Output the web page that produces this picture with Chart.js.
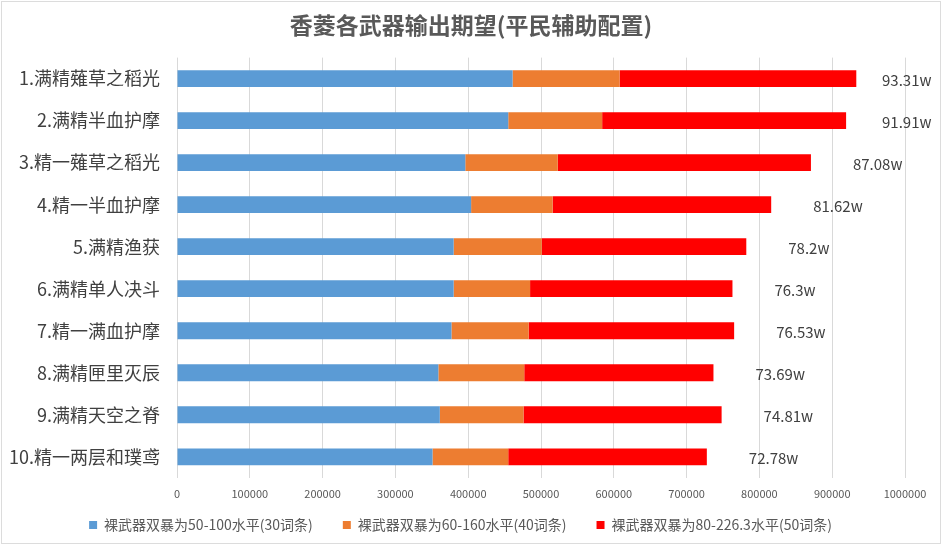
<!DOCTYPE html>
<html>
<head>
<meta charset="utf-8">
<script src="https://cdn.jsdelivr.net/npm/chart.js@4"></script>
<style>
  html, body { margin: 0; padding: 0; background: #fff; }
  #wrap { position: absolute; left: 1px; top: 1px; width: 940px; height: 543px; border: 1px solid #dcdcdc; box-sizing: border-box; }
  #box { position: absolute; left: 0; top: 0; width: 942px; height: 546px; }
</style>
</head>
<body>
<div id="wrap"></div>
<div id="box"><canvas id="miGrafico" width="942" height="546"></canvas></div>
<script>
const categorias = ['1.满精薙草之稻光', '2.满精半血护摩', '3.精一薙草之稻光', '4.精一半血护摩', '5.满精渔获',
  '6.满精单人决斗', '7.精一满血护摩', '8.满精匣里灭辰', '9.满精天空之脊', '10.精一两层和璞鸢'];
const serie30 = [461000, 455000, 396000, 404000, 380000, 380000, 377000, 359000, 361000, 351000];
const serie40 = [147000, 129000, 127000, 112000, 121000, 105000, 106000, 118000, 115000, 104000];
const serie80 = [325100, 335100, 347800, 300200, 281000, 278000, 282300, 259900, 272100, 272800];
const totales = [933100, 919100, 870800, 816200, 782000, 763000, 765300, 736900, 748100, 727800];
const etiquetasTotal = ['93.31w', '91.91w', '87.08w', '81.62w', '78.2w', '76.3w', '76.53w', '73.69w', '74.81w', '72.78w'];
const nombresSerie = ['裸武器双暴为50-100水平(30词条)', '裸武器双暴为60-160水平(40词条)', '裸武器双暴为80-226.3水平(50词条)'];

const fuente = '"Noto Sans CJK SC", "Noto Sans", sans-serif';

// dibuja el total a la derecha de cada barra
const totalPlugin = {
  id: 'totales',
  afterDatasetsDraw(chart) {
    const ctx = chart.ctx;
    const x = chart.scales.x;
    const y = chart.scales.y;
    ctx.save();
    ctx.font = '15px ' + fuente;
    ctx.fillStyle = '#404040';
    ctx.textBaseline = 'middle';
    ctx.textAlign = 'left';
    totales.forEach((t, i) => {
      const px = Math.min(x.getPixelForValue(t) + 42, chart.width - 60);
      ctx.fillText(etiquetasTotal[i], px, y.getPixelForValue(i) + 2);
    });
    ctx.restore();
  }
};

new Chart(document.getElementById('miGrafico').getContext('2d'), {
  type: 'bar',
  data: {
    labels: categorias,
    datasets: [
      { label: nombresSerie[0], data: serie30, backgroundColor: '#5B9BD5' },
      { label: nombresSerie[1], data: serie40, backgroundColor: '#ED7D31' },
      { label: nombresSerie[2], data: serie80, backgroundColor: '#FF0000' }
    ]
  },
  options: {
    indexAxis: 'y',
    responsive: false,
    animation: false,
    maintainAspectRatio: false,
    datasets: { bar: { barPercentage: 0.4, categoryPercentage: 1 } },
    layout: { padding: { left: 0, right: 0, top: 0, bottom: 4 } },
    scales: {
      x: {
        stacked: true,
        min: 0,
        max: 1000000,
        afterFit(scale) { scale.paddingRight = 37; },
        ticks: {
          stepSize: 100000, color: '#595959', font: { family: fuente, size: 11 }, padding: 9, maxRotation: 0,
          callback: v => String(v)
        },
        grid: { color: '#d9d9d9', drawTicks: false },
        border: { display: false }
      },
      y: {
        stacked: true,
        afterFit(scale) { scale.width = 177; },
        ticks: { color: '#404040', font: { family: fuente, size: 18 }, padding: 17 },
        grid: { display: false, drawTicks: false },
        border: { display: false }
      }
    },
    plugins: {
      title: {
        display: true,
        text: '香菱各武器输出期望(平民辅助配置)',
        color: '#595959',
        font: { family: fuente, size: 23, weight: 'bold' },
        padding: { top: 11, bottom: 19 }
      },
      legend: {
        position: 'bottom',
        labels: {
          boxWidth: 8, boxHeight: 8, color: '#595959', font: { family: fuente, size: 14 }, padding: 9,
          generateLabels(chart) {
            // espacio al final para separar las entradas como en el original
            return Chart.defaults.plugins.legend.labels.generateLabels(chart).map(l => ({ ...l, text: l.text + '\u2003\u2002' }));
          }
        }
      },
      tooltip: { enabled: false }
    }
  },
  plugins: [totalPlugin]
});
</script>
</body>
</html>
